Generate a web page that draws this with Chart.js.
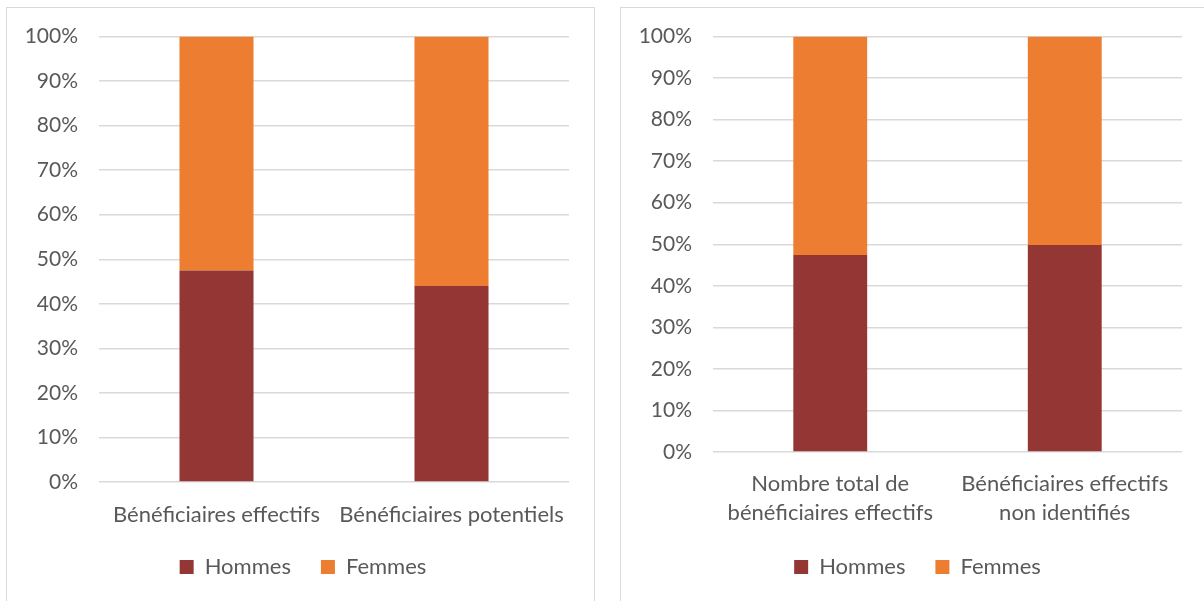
<!DOCTYPE html>
<html>
<head>
<meta charset="utf-8">
<script src="https://cdn.jsdelivr.net/npm/chart.js@4/dist/chart.umd.min.js"></script>
<style>
  html, body { margin:0; padding:0; background:#fff; width:1204px; height:601px; overflow:hidden; }
  .box { position:absolute; top:7px; border:1.5px solid #d9d9d9; background:#fff; overflow:hidden; }
  #boxL { left:6px; width:587px; height:620px; }
  #boxR { left:620px; width:600px; height:620px; }
  .box canvas { position:absolute; left:0; top:0; }
</style>
</head>
<body>
<div class="box" id="boxL"><canvas id="chartL"></canvas></div>
<div class="box" id="boxR"><canvas id="chartR"></canvas></div>
<script>
const seriesNames = ['Hommes', 'Femmes'];
const seriesColors = ['#943634', '#ED7D31'];

const catsL = ['Bénéficiaires effectifs', 'Bénéficiaires potentiels'];
const hommesL = [47.5, 44.0];
const femmesL = [52.5, 56.0];

const catsR = [['Nombre total de', 'bénéficiaires effectifs'], ['Bénéficiaires effectifs', 'non identifiés']];
const hommesR = [47.4, 49.8];
const femmesR = [52.6, 50.2];

const yTicks = [0, 10, 20, 30, 40, 50, 60, 70, 80, 90, 100];

const FONT = 'Lato, "Open Sans", sans-serif';
const TXT = '#595959';

// padLeft shifts the centred legend, yWidth + padLeft puts the plot's left edge,
// the blank right axis keeps the plot clear of the right side without moving the legend
function makeChart(id, w, h, labels, hommes, femmes, o) {
  const cv = document.getElementById(id);
  cv.width = w; cv.height = h;
  cv.style.width = w + 'px'; cv.style.height = h + 'px';
  return new Chart(cv, {
    type: 'bar',
    data: {
      labels: labels,
      datasets: [hommes, femmes].map((d, i) => ({
        label: seriesNames[i],
        data: d,
        backgroundColor: seriesColors[i],
        borderWidth: 0,
        categoryPercentage: 1,
        barPercentage: 0.315
      }))
    },
    options: {
      responsive: false,
      animation: false,
      layout: { padding: { top: 28.5, right: 0, bottom: 0, left: o.padLeft } },
      plugins: {
        tooltip: { enabled: false },
        legend: {
          position: 'bottom',
          labels: { color: TXT, font: { family: FONT, size: 22 }, boxWidth: 14, boxHeight: 14, padding: 30 }
        }
      },
      scales: {
        x: {
          stacked: true,
          grid: { display: false },
          border: { display: false },
          ticks: { color: TXT, font: { family: FONT, size: 22, lineHeight: 1.3 }, padding: o.xPad, maxRotation: 0, autoSkip: false },
          afterFit: s => { s.height = o.xHeight; }
        },
        y: {
          stacked: true,
          min: 0, max: 100,
          afterBuildTicks: s => { s.ticks = yTicks.map(v => ({ value: v })); },
          // invisible tick marks make the gap between labels and grid
          grid: { color: '#d9d9d9', lineWidth: 1.5, drawTicks: true, tickLength: 17, tickColor: 'rgba(0,0,0,0)' },
          border: { display: false },
          ticks: { color: TXT, font: { family: FONT, size: 21 }, padding: 4, callback: v => v + '%' },
          afterFit: s => { s.width = o.yWidth; }
        },
        yRight: {
          position: 'right',
          grid: { display: false },
          border: { display: false },
          ticks: { display: false },
          afterFit: s => { s.width = o.rightGap; }
        }
      }
    }
  });
}

makeChart('chartL', 587, 580, catsL, hommesL, femmesL,
  { padLeft: 5, yWidth: 87, rightGap: 25, xHeight: 44, xPad: 11 });
makeChart('chartR', 584, 580, catsR, hommesR, femmesR,
  { padLeft: 9, yWidth: 83, rightGap: 23, xHeight: 74, xPad: 10 });
</script>
</body>
</html>
